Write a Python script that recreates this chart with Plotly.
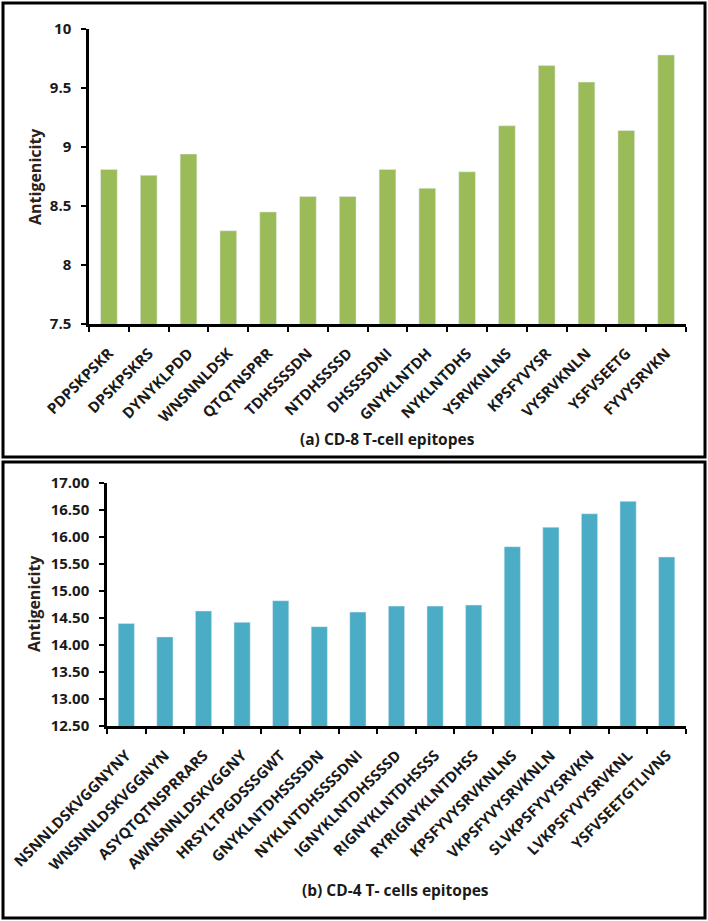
import plotly.graph_objects as go

# (a) CD-8 T-cell epitopes
cd8_epitopes = ["PDPSKPSKR", "DPSKPSKRS", "DYNYKLPDD", "WNSNNLDSK", "QTQTNSPRR",
                "TDHSSSSDN", "NTDHSSSSD", "DHSSSSDNI", "GNYKLNTDH", "NYKLNTDHS",
                "YSRVKNLNS", "KPSFYVYSR", "VYSRVKNLN", "YSFVSEETG", "FYVYSRVKN"]
cd8_values = [8.81, 8.76, 8.94, 8.29, 8.45, 8.58, 8.58, 8.81, 8.65, 8.79,
              9.18, 9.69, 9.55, 9.14, 9.78]
cd8_ticks = [7.5, 8, 8.5, 9, 9.5, 10]

# (b) CD-4 T-cell epitopes
cd4_epitopes = ["NSNNLDSKVGGNYNY", "WNSNNLDSKVGGNYN", "ASYQTQTNSPRRARS", "AWNSNNLDSKVGGNY",
                "HRSYLTPGDSSSGWT", "GNYKLNTDHSSSSDN", "NYKLNTDHSSSSDNI", "IGNYKLNTDHSSSSD",
                "RIGNYKLNTDHSSSS", "RYRIGNYKLNTDHSS", "KPSFYVYSRVKNLNS", "VKPSFYVYSRVKNLN",
                "SLVKPSFYVYSRVKN", "LVKPSFYVYSRVKNL", "YSFVSEETGTLIVNS"]
cd4_values = [14.40, 14.15, 14.63, 14.42, 14.82, 14.34, 14.61, 14.72, 14.72, 14.74,
              15.82, 16.18, 16.43, 16.66, 15.63]
cd4_ticks = [12.5, 13.0, 13.5, 14.0, 14.5, 15.0, 15.5, 16.0, 16.5, 17.0]

W, H = 708, 921
FONT = "Open Sans"
DARK = "#1a1a1a"


def px(x):
    return x / W


def py(y):
    return 1 - y / H


fig = go.Figure()
fig.add_trace(go.Bar(x=cd8_epitopes, y=cd8_values, marker_color="#9BBB59",
                     width=0.42, xaxis="x", yaxis="y"))
fig.add_trace(go.Bar(x=cd4_epitopes, y=cd4_values, marker_color="#4BACC6",
                     width=0.42, xaxis="x2", yaxis="y2"))

xcommon = dict(type="category", showline=True, linecolor="black", linewidth=2.5,
               ticks="outside", tickson="boundaries", ticklen=5, tickwidth=2,
               tickcolor="black", tickangle=-45, showgrid=False, automargin=False,
               ticklabelstandoff=12,
               tickfont=dict(family=FONT, size=15, color=DARK, weight="bold"))
ycommon = dict(showline=True, linecolor="black", linewidth=2.5, ticks="outside",
               ticklen=5, tickwidth=2, tickcolor="black", showgrid=False, zeroline=False,
               automargin=False, ticklabelstandoff=7,
               tickfont=dict(family=FONT, size=15, color=DARK, weight="bold"))

ytitle = dict(text="Antigenicity", xref="paper", yref="paper", showarrow=False,
              textangle=-90, xanchor="center", yanchor="middle",
              font=dict(family=FONT, size=16, color="#2b2118", weight="bold"))

fig.update_layout(
    width=W, height=H,
    margin=dict(l=0, r=0, t=0, b=0, autoexpand=False),
    paper_bgcolor="white", plot_bgcolor="white",
    showlegend=False, bargap=0.58,
    xaxis=dict(domain=[px(89), px(686)], anchor="y", **xcommon),
    yaxis=dict(domain=[py(324), py(29)], anchor="x", range=[7.5, 10],
               tickvals=cd8_ticks, ticktext=[f"{v:g}" for v in cd8_ticks], **ycommon),
    xaxis2=dict(domain=[px(107), px(686)], anchor="y2", **xcommon),
    yaxis2=dict(domain=[py(726), py(483)], anchor="x2", range=[12.5, 17],
                tickvals=cd4_ticks, ticktext=[f"{v:.2f}" for v in cd4_ticks], **ycommon),
    shapes=[
        dict(type="rect", xref="paper", yref="paper", x0=px(3), x1=px(705),
             y0=py(457), y1=py(3), line=dict(color="black", width=3)),
        dict(type="rect", xref="paper", yref="paper", x0=px(3), x1=px(705),
             y0=py(918), y1=py(462), line=dict(color="black", width=3)),
    ],
    annotations=[
        dict(ytitle, x=px(35), y=py(177)),
        dict(ytitle, x=px(34), y=py(604)),
        dict(text="(a) CD-8 T-cell epitopes", xref="paper", yref="paper",
             x=px(388), y=py(439), showarrow=False, xanchor="center", yanchor="middle",
             font=dict(family=FONT, size=15.5, color=DARK, weight="bold")),
        dict(text="(b) CD-4 T- cells epitopes", xref="paper", yref="paper",
             x=px(395), y=py(890), showarrow=False, xanchor="center", yanchor="middle",
             font=dict(family=FONT, size=15.5, color=DARK, weight="bold")),
    ],
)

# page margin off so the figure sits at the window's top-left corner
fig.write_html("out.html", config={"displayModeBar": False},
               post_script="document.body.style.margin='0';")
